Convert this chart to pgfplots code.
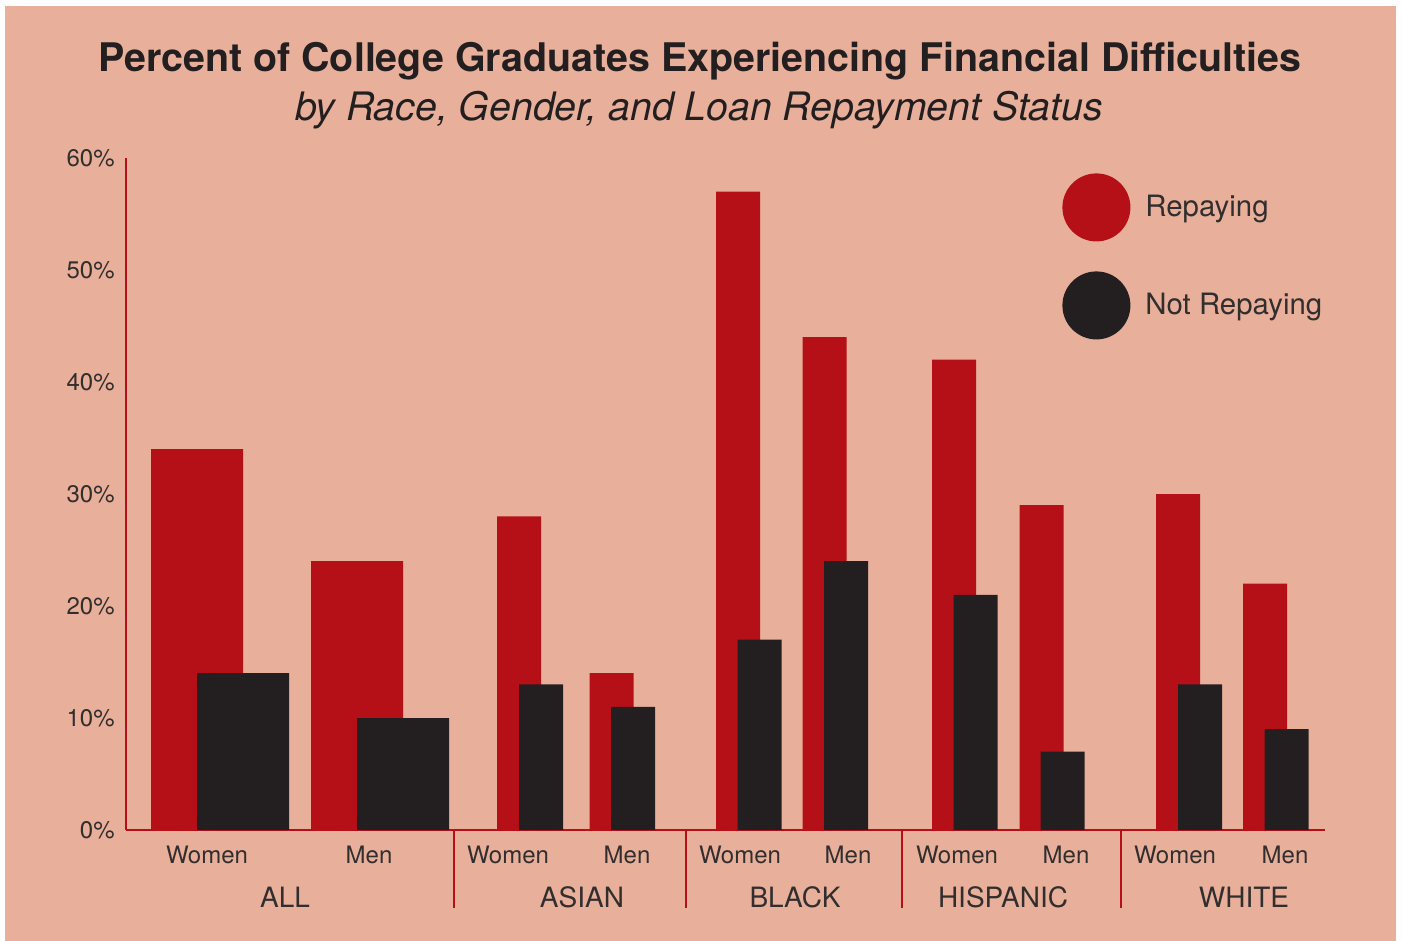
\documentclass[border=0pt]{standalone}
\usepackage{fontspec}
\setmainfont{TeX Gyre Heros}
\usepackage{pgfplots}
\pgfplotsset{compat=1.18}

\definecolor{bg}{RGB}{232,176,155}
\definecolor{barred}{RGB}{181,16,24}
\definecolor{bardark}{RGB}{35,31,32}
\definecolor{txt}{RGB}{50,46,46}

\begin{document}
\begin{tikzpicture}
% page and panel (1 px of the reference = 0.5pt)
\begin{scope}[x=0.5pt,y=-0.5pt]
    \fill[white] (0,0) rectangle (1402,941);
    \fill[bg] (5,6) rectangle (1396,941);
\end{scope}

\begin{axis}[
    at={(63pt,-415pt)}, anchor=south west,
    scale only axis,
    width=599.5pt, height=336pt,
    xmin=126, xmax=1325,
    ymin=0, ymax=60,
    axis x line=bottom,
    axis y line=left,
    axis line style={draw=barred, line width=1.1pt, -},
    major tick length=0pt,
    ytick={0,10,...,60},
    yticklabels={0\%,10\%,20\%,30\%,40\%,50\%,60\%},
    yticklabel style={font=\fontsize{12}{14}\selectfont, text=txt, inner sep=0pt, xshift=-5.5pt},
    xtick={207,369,508,627,740,848,957,1066,1175,1285},
    xticklabels={Women,Men,Women,Men,Women,Men,Women,Men,Women,Men},
    xticklabel style={font=\fontsize{12}{14}\selectfont, text=txt, anchor=base, yshift=-16.5pt},
    clip=false,
    ybar,
    legend style={
        at={(axis cs:1062,58.66)}, anchor=north west,
        draw=none, fill=none, inner sep=0pt,
        row sep=15pt,
        font=\fontsize{14.7}{17}\selectfont, text=txt,
    },
    legend cell align=left,
]

    % Repaying
    \addplot[ybar, bar width=92, bar shift=0pt, fill=barred, draw=none,
        legend image code/.code={\fill[barred] (17pt,0pt) circle (17pt);
                                 \path[draw=none,fill=none] (0pt,0pt) rectangle (39.5pt,0pt);}]
        coordinates {(197,34) (357,24)};
    \addlegendentry{Repaying}

    \addplot[ybar, bar width=44, bar shift=0pt, fill=barred, draw=none, forget plot]
        coordinates {(519,28) (611.5,14) (738,57) (824.5,44)
                     (954,42) (1041.5,29) (1178,30) (1265,22)};

    % Not repaying
    \addplot[ybar, bar width=92, bar shift=0pt, fill=bardark, draw=none,
        legend image code/.code={\fill[bardark] (17pt,0pt) circle (17pt);
                                 \path[draw=none,fill=none] (0pt,0pt) rectangle (39.5pt,0pt);}]
        coordinates {(243,14) (403,10)};
    \addlegendentry{Not Repaying}

    \addplot[ybar, bar width=44, bar shift=0pt, fill=bardark, draw=none, forget plot]
        coordinates {(541,13) (633,11) (759.5,17) (846,24)
                     (975.5,21) (1062.5,7) (1200,13) (1286.5,9)};

    % group separators and names
    \foreach \s in {454,686,902,1121} {
        \edef\temp{\noexpand\draw[barred, line width=1.1pt]
            (axis cs:\s,0) -- (axis cs:\s,-6.96);}
        \temp
    }
    \begin{scope}[every node/.style={anchor=base, text=txt, font=\fontsize{14}{17}\selectfont}]
        \node at (axis cs:285,-6.875) {ALL};
        \node at (axis cs:582,-6.875) {ASIAN};
        \node at (axis cs:795,-6.875) {BLACK};
        \node at (axis cs:1003,-6.875) {HISPANIC};
        \node at (axis cs:1244,-6.875) {WHITE};
    \end{scope}

    % titles
    \node[anchor=base, text=bardark, font=\bfseries\fontsize{19.7}{22}\selectfont]
        at (axis cs:700,67.68) {Percent of College Graduates Experiencing Financial Difficulties};
    \node[anchor=base, text=bardark, font=\itshape\fontsize{19.6}{22}\selectfont]
        at (axis cs:699,63.39) {by Race, Gender, and Loan Repayment Status};
\end{axis}
\end{tikzpicture}
\end{document}
